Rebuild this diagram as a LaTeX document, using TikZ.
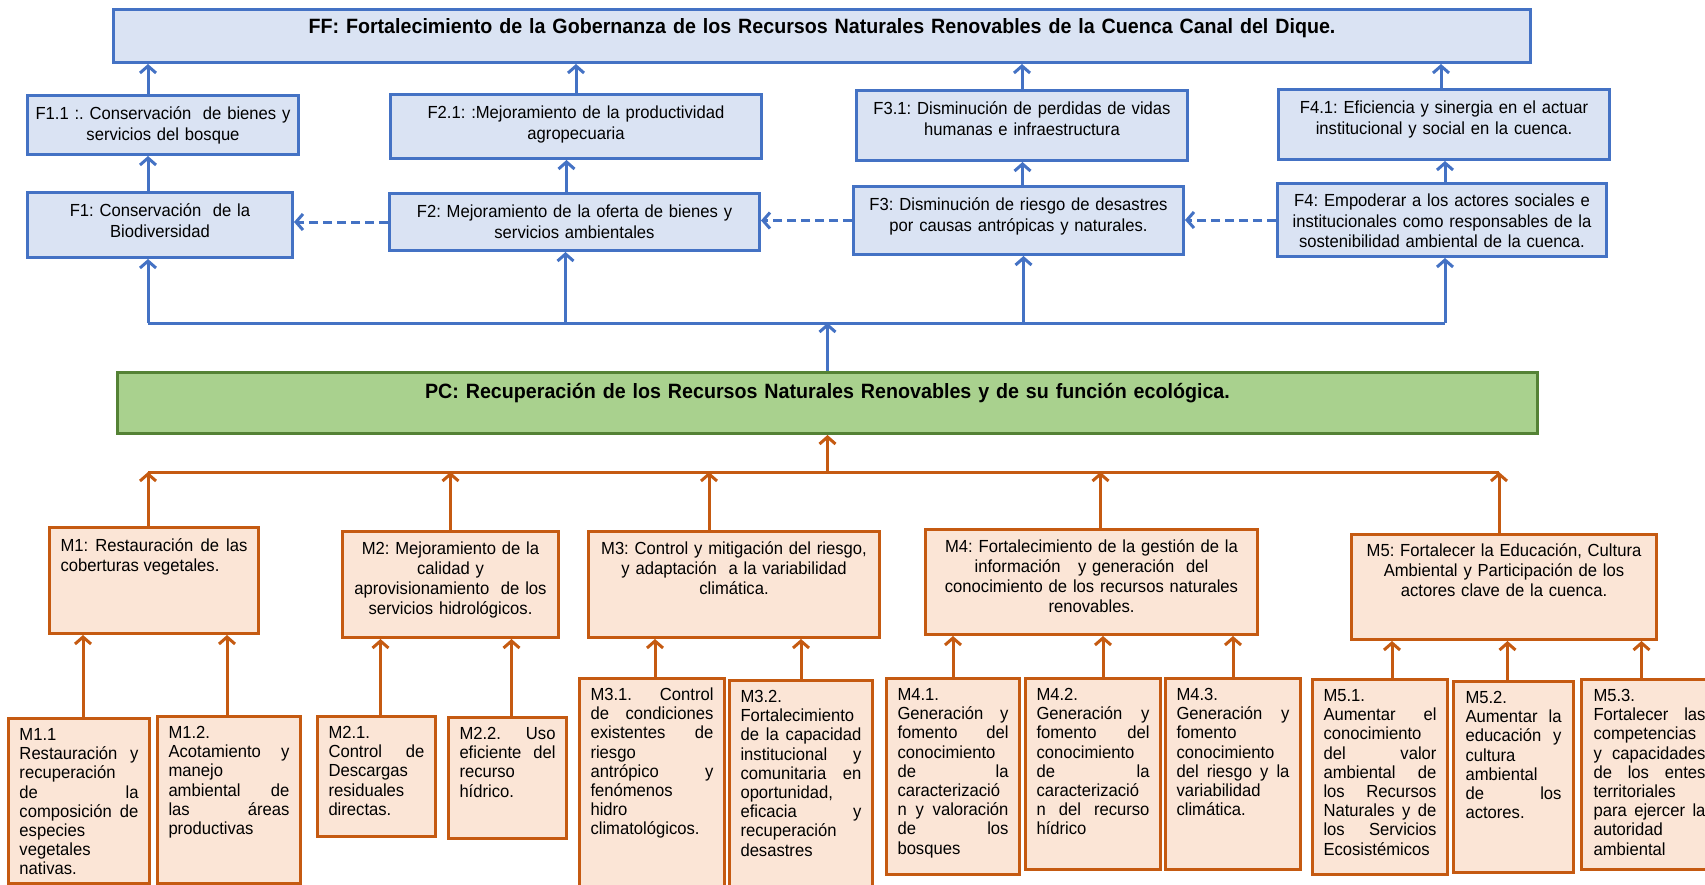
\documentclass[tikz,border=0pt]{standalone}
\usepackage{fontspec}
\setmainfont{Liberation Sans}[FakeStretch=0.95]
\usetikzlibrary{arrows.meta}
\definecolor{bluefill}{HTML}{DAE3F3}
\definecolor{blueline}{HTML}{4472C4}
\definecolor{greenfill}{HTML}{A9D18E}
\definecolor{greenline}{HTML}{548235}
\definecolor{orangefill}{HTML}{FBE5D6}
\definecolor{orangeline}{HTML}{C55A11}
\hyphenpenalty=10000
\tolerance=10000
\hbadness=10000
\frenchspacing

\begin{document}
\begin{tikzpicture}[x=1pt, y=-1pt,
		fbox/.style={draw=blueline, fill=bluefill, line width=3pt, anchor=north west, inner sep=0pt,
			align=center, text height=24pt, font=\fontsize{17.5}{20.7}\selectfont},
		titlebox/.style={fbox, font=\bfseries\fontsize{20.7}{23}\selectfont},
		pcbox/.style={titlebox, draw=greenline, fill=greenfill},
		mbox/.style={fbox, draw=orangeline, fill=orangefill, text height=23pt, font=\fontsize{17.5}{20}\selectfont},
		subbox/.style={mbox, align=justify, text height=22pt, font=\fontsize{17.5}{19.2}\selectfont},
		tip/.style={-{Straight Barb[length=7pt,width=16pt]}},
		bline/.style={blueline, line width=3pt},
		barrow/.style={bline, tip},
		bdash/.style={barrow, dash pattern=on 9pt off 5pt},
		oline/.style={orangeline, line width=3pt},
		oarrow/.style={oline, tip}]
	\useasboundingbox (0,0) rectangle (1705,884);

	% fin
	\node[titlebox, text width=1397pt, minimum width=1417pt, text depth=29pt] (ff) at (112,8)
		{FF: Fortalecimiento de la Gobernanza de los Recursos Naturales Renovables de la Cuenca Canal del Dique.};

	% fines
	\node[fbox, text width=259pt, minimum width=271pt, text depth=35pt] (f11) at (26,94)
		{F1.1 :. Conservaci\'on\ \ de bienes y\\ servicios del bosque};
	\node[fbox, text width=359pt, minimum width=371pt, text depth=40pt] (f21) at (389,93)
		{F2.1: :Mejoramiento de la productividad\\ agropecuaria};
	\node[fbox, text width=319pt, minimum width=331pt, text depth=46pt] (f31) at (855,89)
		{F3.1: Disminuci\'on de perdidas de vidas\\ humanas e infraestructura};
	\node[fbox, text width=319pt, minimum width=331pt, text depth=46pt] (f41) at (1277,88)
		{F4.1: Eficiencia y sinergia en el actuar\\ institucional y social en la cuenca.};
	\node[fbox, text width=253pt, minimum width=265pt, text depth=41pt] (f1) at (26,191)
		{F1: Conservaci\'on\ \ de la\\ Biodiversidad};
	\node[fbox, text width=358pt, minimum width=370pt, text depth=33pt] (f2) at (388,192)
		{F2: Mejoramiento de la oferta de bienes y\\ servicios ambientales};
	\node[fbox, text width=318pt, minimum width=330pt, text depth=44pt] (f3) at (852,185)
		{F3: Disminuci\'on de riesgo de desastres\\ por causas antr\'opicas y naturales.};
	\node[fbox, text width=317pt, minimum width=329pt, text height=23pt, text depth=50pt] (f4) at (1276,182)
		{F4: Empoderar a los actores sociales e\\ institucionales como responsables de la\\ sostenibilidad ambiental de la cuenca.};

	% problema central
	\node[pcbox, text width=1400pt, minimum width=1420pt, text height=26pt, text depth=35pt] (pc) at (116,371)
		{PC: Recuperaci\'on de los Recursos Naturales Renovables y de su funci\'on ecol\'ogica.};

	% medios
	\node[mbox, align=justify, text width=187pt, minimum width=209pt, text height=24pt, text depth=82pt] (m1) at (48,526)
		{M1:~Restauraci\'on~de~las\linebreak coberturas vegetales.};
	\node[mbox, text width=204pt, minimum width=216pt, text depth=83pt] (m2) at (341,530)
		{M2: Mejoramiento de la\\ calidad y\\ aprovisionamiento\ \ de los\\ servicios hidrol\'ogicos.};
	\node[mbox, text width=279pt, minimum width=291pt, text depth=83pt] (m3) at (587,530)
		{M3: Control y mitigaci\'on del riesgo,\\ y adaptaci\'on\ \ a la variabilidad\\ clim\'atica.};
	\node[mbox, text width=320pt, minimum width=332pt, text depth=82pt] (m4) at (924,528)
		{M4: Fortalecimiento de la gesti\'on de la\\ informaci\'on\ \ \ y generaci\'on\ \ del\\ conocimiento de los recursos naturales\\ renovables.};
	\node[mbox, text width=293pt, minimum width=305pt, text height=22pt, text depth=83pt] (m5) at (1350,533)
		{M5: Fortalecer la Educaci\'on, Cultura\\ Ambiental y Participaci\'on de los\\ actores clave de la cuenca.};

	% medios especificos
	\node[subbox, text width=119pt, minimum width=141pt, text depth=143pt] (m11) at (7,717)
		{M1.1\\ Restauraci\'on~y\linebreak recuperaci\'on\\ de~la\linebreak composici\'on~de\linebreak especies\\ vegetales\\ nativas.};
	\node[subbox, text width=121pt, minimum width=143pt, text depth=145pt] (m12) at (156,715)
		{M1.2.\\ Acotamiento~y\linebreak manejo\\ ambiental~de\linebreak las~\'areas\linebreak productivas};
	\node[subbox, text width=96pt, minimum width=118pt, text depth=98pt] (m21) at (316,715)
		{M2.1.\\ Control~de\linebreak Descargas\\ residuales\\ directas.};
	\node[subbox, text width=96pt, minimum width=118pt, text depth=99pt] (m22) at (447,716)
		{M2.2.~Uso\linebreak eficiente~del\linebreak recurso\\ h\'idrico.};
	\node[subbox, text width=123pt, minimum width=145pt, text depth=203pt] (m31) at (578,677)
		{M3.1.~Control\linebreak de~condiciones\linebreak existentes~de\linebreak riesgo\\ antr\'opico~y\linebreak fen\'omenos\\ hidro\\ climatol\'ogicos.};
	\node[subbox, text width=121pt, minimum width=143pt, text depth=201pt] (m32) at (728,679)
		{M3.2.\\ Fortalecimiento\\ de~la~capacidad\linebreak institucional~y\linebreak comunitaria~en\linebreak oportunidad,\\ eficacia~y\linebreak recuperaci\'on\\ desastres};
	\node[subbox, text width=111pt, minimum width=133pt, text depth=174pt] (m41) at (885,677)
		{M4.1.\\ Generaci\'on~y\linebreak fomento~del\linebreak conocimiento\\ de~la\linebreak caracterizaci\'o\\ n~y~valoraci\'on\linebreak de~los\linebreak bosques};
	\node[subbox, text width=113pt, minimum width=135pt, text depth=169pt] (m42) at (1024,677)
		{M4.2.\\ Generaci\'on~y\linebreak fomento~del\linebreak conocimiento\\ de~la\linebreak caracterizaci\'o\\ n~del~recurso\linebreak h\'idrico};
	\node[subbox, text width=113pt, minimum width=135pt, text depth=169pt] (m43) at (1164,677)
		{M4.3.\\ Generaci\'on~y\linebreak fomento\\ conocimiento\\ del~riesgo~y~la\linebreak variabilidad\\ clim\'atica.};
	\node[subbox, text width=113pt, minimum width=135pt, text depth=173pt] (m51) at (1311,678)
		{M5.1.\\ Aumentar~el\linebreak conocimiento\\ del~valor\linebreak ambiental~de\linebreak los~Recursos\linebreak Naturales~y~de\linebreak los~Servicios\linebreak Ecosist\'emicos};
	\node[subbox, text width=96pt, minimum width=120pt, text depth=169pt] (m52) at (1452,680)
		{M5.2.\\ Aumentar~la\linebreak educaci\'on~y\linebreak cultura\\ ambiental\\ de~los\linebreak actores.};
	\node[subbox, text width=112pt, minimum width=136pt, text depth=168pt] (m53) at (1580,678)
		{M5.3.\\ Fortalecer~las\linebreak competencias\\ y~capacidades\linebreak de~los~entes\linebreak territoriales\\ para~ejercer~la\linebreak autoridad\\ ambiental};

	% fines -> fin
	\draw[barrow] ([xshift=-15pt]f11.north) -- ([xshift=-15pt]f11.north |- ff.south);
	\draw[barrow] (f21.north) -- (f21.north |- ff.south);
	\draw[barrow] (f31.north) -- (f31.north |- ff.south);
	\draw[barrow] ([xshift=-3pt]f41.north) -- ([xshift=-3pt]f41.north |- ff.south);
	\draw[barrow] ([xshift=-12pt]f1.north) -- ([xshift=-12pt]f1.north |- f11.south);
	\draw[barrow] ([xshift=-8pt]f2.north) -- ([xshift=-8pt]f2.north |- f21.south);
	\draw[barrow] ([xshift=4pt]f3.north) -- ([xshift=4pt]f3.north |- f31.south);
	\draw[barrow] ([xshift=3pt]f4.north) -- ([xshift=3pt]f4.north |- f41.south);
	\draw[bdash] (f2.west) -- (f2.west -| f1.east);
	\draw[bdash] (f3.west) -- (f3.west -| f2.east);
	\draw[bdash] (f4.west) -- (f4.west -| f3.east);

	% problema -> fines
	\coordinate (bbus) at (826,323);
	\draw[barrow] (pc.north) -- (pc.north |- bbus);
	\draw[bline] ([xshift=-12pt]f1.south |- bbus) -- ([xshift=3pt]f4.south |- bbus);
	\draw[barrow] ([xshift=-12pt]f1.south |- bbus) -- ([xshift=-12pt]f1.south);
	\draw[barrow] ([xshift=-9pt]f2.south |- bbus) -- ([xshift=-9pt]f2.south);
	\draw[barrow] ([xshift=5pt]f3.south |- bbus) -- ([xshift=5pt]f3.south);
	\draw[barrow] ([xshift=3pt]f4.south |- bbus) -- ([xshift=3pt]f4.south);

	% medios -> problema
	\coordinate (obus) at (826,472);
	\draw[oarrow] (pc.south |- obus) -- (pc.south);
	\draw[oline] ([xshift=-6pt]m1.north |- obus) -- ([xshift=-5pt]m5.north |- obus);
	\draw[oarrow] ([xshift=-6pt]m1.north) -- ([xshift=-6pt]m1.north |- obus);
	\draw[oarrow] (m2.north) -- (m2.north |- obus);
	\draw[oarrow] ([xshift=-25pt]m3.north) -- ([xshift=-25pt]m3.north |- obus);
	\draw[oarrow] ([xshift=9pt]m4.north) -- ([xshift=9pt]m4.north |- obus);
	\draw[oarrow] ([xshift=-5pt]m5.north) -- ([xshift=-5pt]m5.north |- obus);

	% medios especificos -> medios
	\draw[oarrow] ([xshift=4pt]m11.north) -- ([xshift=4pt]m11.north |- m1.south);
	\draw[oarrow] ([xshift=-2pt]m12.north) -- ([xshift=-2pt]m12.north |- m1.south);
	\draw[oarrow] ([xshift=4pt]m21.north) -- ([xshift=4pt]m21.north |- m2.south);
	\draw[oarrow] ([xshift=4pt]m22.north) -- ([xshift=4pt]m22.north |- m2.south);
	\draw[oarrow] ([xshift=3pt]m31.north) -- ([xshift=3pt]m31.north |- m3.south);
	\draw[oarrow] (m32.north) -- (m32.north |- m3.south);
	\draw[oarrow] (m41.north) -- (m41.north |- m4.south);
	\draw[oarrow] ([xshift=10pt]m42.north) -- ([xshift=10pt]m42.north |- m4.south);
	\draw[oarrow] (m43.north) -- (m43.north |- m4.south);
	\draw[oarrow] ([xshift=12pt]m51.north) -- ([xshift=12pt]m51.north |- m5.south);
	\draw[oarrow] ([xshift=-6pt]m52.north) -- ([xshift=-6pt]m52.north |- m5.south);
	\draw[oarrow] ([xshift=-8pt]m53.north) -- ([xshift=-8pt]m53.north |- m5.south);
\end{tikzpicture}
\end{document}
